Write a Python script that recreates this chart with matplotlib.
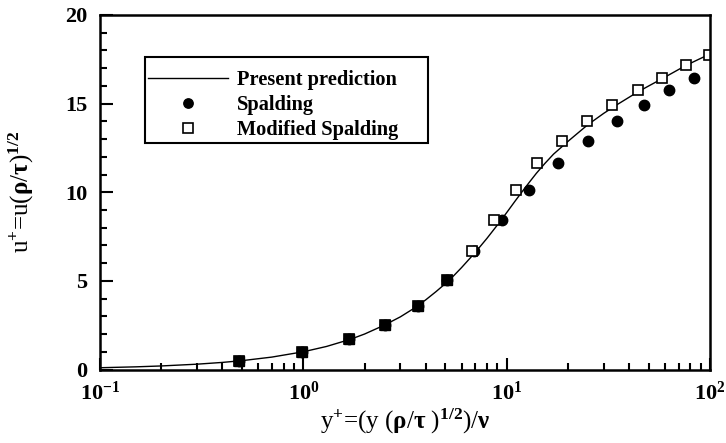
import numpy as np
import matplotlib
matplotlib.use("Agg")
import matplotlib.pyplot as plt
from matplotlib.patches import Rectangle
from matplotlib.ticker import LogLocator, MultipleLocator

plt.rcParams["font.family"] = ["Liberation Serif", "DejaVu Serif"]
plt.rcParams["font.weight"] = "bold"
plt.rcParams["mathtext.fontset"] = "custom"
plt.rcParams["mathtext.rm"] = "Liberation Serif:bold"
plt.rcParams["mathtext.it"] = "Liberation Serif:bold"
plt.rcParams["mathtext.bf"] = "Liberation Serif:bold"
plt.rcParams["mathtext.default"] = "rm"

# present prediction
pred_y = [0.1, 0.15, 0.2, 0.3, 0.4, 0.5, 0.7, 1.0, 1.3, 1.7, 2.0, 2.5, 3.0, 3.5, 4.0,
          4.5, 5.0, 5.5, 6.0, 7.0, 8.0, 9.0, 10.0, 11.0, 12.0, 13.0, 14.0, 15.4,
          17.0, 20.4, 25.0, 30.0, 35.0, 44.0, 50.0, 58.0, 67.0, 76.0, 88.0, 100.0]
pred_u = [0.1, 0.15, 0.2, 0.3, 0.4, 0.5, 0.7, 1.0, 1.3, 1.7, 2.0, 2.5, 2.97, 3.45, 3.93,
          4.4, 4.85, 5.3, 5.75, 6.6, 7.4, 8.15, 8.85, 9.5, 10.08, 10.6, 11.07, 11.62,
          12.15, 12.95, 13.8, 14.45, 14.95, 15.65, 16.0, 16.4, 16.8, 17.15, 17.5, 17.8]

# Modified Spalding (open squares)
mod_y = [0.48, 0.99, 1.67, 2.53, 3.66, 5.06, 6.77, 8.66, 11.07, 14.1, 18.8,
         24.9, 33.1, 44.0, 58.1, 76.2, 98.9]
mod_u = [0.5, 1.0, 1.7, 2.5, 3.6, 5.05, 6.7, 8.45, 10.14, 11.65, 12.88,
         14.0, 14.9, 15.75, 16.47, 17.16, 17.77]

# Spalding (filled circles)
spa_y = [0.48, 0.99, 1.67, 2.53, 3.66, 5.06, 6.9, 9.45, 12.94, 17.9, 25.2,
         34.8, 47.6, 63.2, 83.1]
spa_u = [0.5, 1.0, 1.7, 2.5, 3.6, 5.05, 6.7, 8.45, 10.14, 11.65, 12.88,
         14.0, 14.9, 15.75, 16.47]

W, H = 726, 443
fig = plt.figure(figsize=(W / 100, H / 100), dpi=100)
ax = fig.add_axes([100 / W, 1 - 369.5 / H, 610 / W, 354.5 / H])

ax.plot(pred_y, pred_u, color="black", lw=1.0, label="Present prediction")
ax.plot(spa_y, spa_u, "o", color="black", ms=7.5, label="Spalding")
ax.plot(mod_y, mod_u, "s", mfc="white", mec="black", mew=1.2, ms=7.5, label="Modified Spalding")
# filled squares where the two overlap at small y+
ax.plot(mod_y[:6], mod_u[:6], "s", color="black", ms=7.5)

ax.set_xscale("log")
ax.set_xlim(0.1, 100)
ax.set_ylim(0, 20)
ax.set_xticks([0.1, 1, 10, 100])
ax.set_xticklabels([r"10$^{-1}$", r"10$^{0}$", r"10$^{1}$", r"10$^{2}$"])
ax.xaxis.set_minor_locator(LogLocator(base=10, subs=np.arange(2, 10)))
ax.yaxis.set_major_locator(MultipleLocator(5))
ax.yaxis.set_minor_locator(MultipleLocator(1))
ax.tick_params(which="both", direction="in", top=False, right=False, labelsize=16, width=1.5)
ax.tick_params(which="major", length=9)
ax.tick_params(which="minor", length=5)
ax.tick_params(axis="x", pad=9)
ax.tick_params(axis="y", pad=9)
for s in ax.spines.values():
    s.set_linewidth(1.8)

ax.set_xlabel(r"y$^{+}$=(y ($\rho$/$\tau$ )$^{1/2}$)/$\nu$", fontsize=18, labelpad=1)
ax.set_ylabel(r"u$^{+}$=u($\rho$/$\tau$)$^{1/2}$", fontsize=18, labelpad=21)

leg = ax.legend(loc="upper left", bbox_to_anchor=(148 / W, 1 - 70 / H),
                bbox_transform=fig.transFigure, fontsize=14.7, frameon=False,
                handlelength=3.9, handletextpad=0.45, borderpad=0, borderaxespad=0,
                labelspacing=0.25, markerscale=0.9)
# legend box
fig.patches.append(Rectangle((145 / W, 1 - 143 / H), 283 / W, 86 / H,
                             transform=fig.transFigure, fill=False,
                             edgecolor="black", linewidth=1.5))

fig.savefig("out.png", dpi=100)
